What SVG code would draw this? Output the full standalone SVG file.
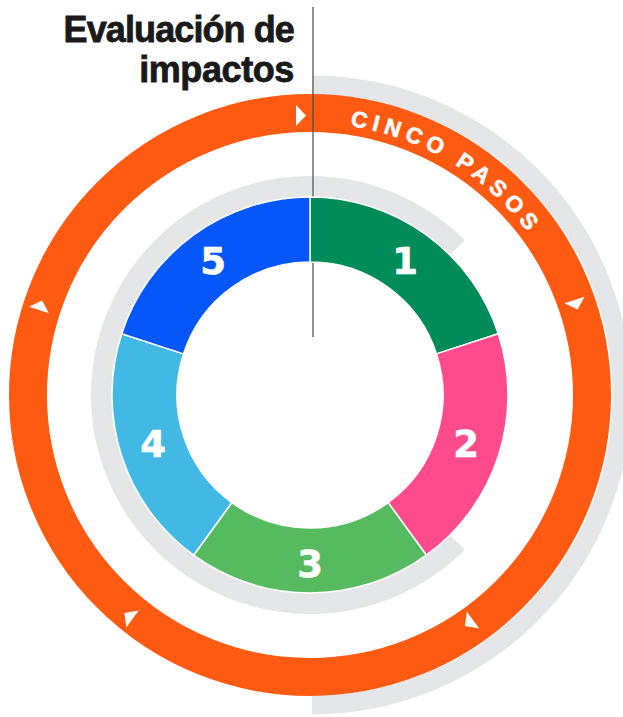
<svg xmlns="http://www.w3.org/2000/svg" width="623" height="717" viewBox="0 0 623 717">
<defs>
<style>
.title{font-family:"Liberation Sans",Arial,sans-serif;font-weight:bold;font-size:36px;fill:#1a1a1a;stroke:#1a1a1a;stroke-width:0.8;text-anchor:end}
.num{font-family:"DejaVu Sans",sans-serif;font-weight:bold;font-size:37px;fill:#ffffff;stroke:#ffffff;stroke-width:0.6;text-anchor:middle}
.seg{stroke:#ffffff;stroke-width:1.5;stroke-linejoin:miter}
.ring{fill:none}
.arrow{fill:#ffffff}
.pasos{font-family:"Liberation Sans",Arial,sans-serif;font-weight:bold;font-size:22.5px;fill:#ffffff;stroke:#ffffff;stroke-width:0.6;letter-spacing:5.6px}
</style>
<path id="arcText" d="M310,123 A272,272 0 0 1 582,395"/>
<polygon id="tri" points="0,-10.5 10,0 0,10.5"/>
</defs>
<rect width="623" height="717" fill="#ffffff"/>

<g id="title">
<text class="title" x="294" y="42" letter-spacing="-0.9">Evaluación de</text>
<text class="title" x="294" y="82" letter-spacing="-0.4">impactos</text>
</g>

<g id="background-rings">
<path class="ring" d="M312,85 A310,310 0 0 1 312,705" stroke="#e5e6e8" stroke-width="19"/>
<path class="ring" d="M457.4,542.4 A208.5,208.5 0 1 1 457.4,247.6" stroke="#e5e6e8" stroke-width="21"/>
</g>

<g id="cycle-ring">
<circle class="ring" cx="310" cy="395" r="282" stroke="#ff5a12" stroke-width="38"/>
<text class="pasos"><textPath href="#arcText" startOffset="40">CINCO PASOS</textPath></text>
</g>

<g id="connectors">
<use href="#tri" class="arrow" transform="translate(296,115.5) rotate(0)"/>
<use href="#tri" class="arrow" transform="translate(574.5,300) rotate(72)"/>
<use href="#tri" class="arrow" transform="translate(473,620) rotate(144)"/>
<use href="#tri" class="arrow" transform="translate(132.5,619) rotate(216)"/>
<use href="#tri" class="arrow" transform="translate(39,310) rotate(288)"/>
<line x1="313" y1="7" x2="313" y2="337" stroke="#4a4a4a" stroke-width="1.2"/>
</g>

<g id="step-1">
<path class="seg" fill="#008b5a" d="M310,197 A198,198 0 0 1 498.31,333.81 L436.49,353.90 A133,133 0 0 0 310,262 Z"/>
<text class="num" x="405" y="274">1</text>
</g>
<g id="step-2">
<path class="seg" fill="#ff4a8c" d="M498.31,333.81 A198,198 0 0 1 426.38,555.19 L388.18,502.60 A133,133 0 0 0 436.49,353.90 Z"/>
<text class="num" x="466" y="457">2</text>
</g>
<g id="step-3">
<path class="seg" fill="#55bb5e" d="M426.38,555.19 A198,198 0 0 1 193.62,555.19 L231.82,502.60 A133,133 0 0 0 388.18,502.60 Z"/>
<text class="num" x="310" y="577">3</text>
</g>
<g id="step-4">
<path class="seg" fill="#42b8e4" d="M193.62,555.19 A198,198 0 0 1 121.69,333.81 L183.51,353.90 A133,133 0 0 0 231.82,502.60 Z"/>
<text class="num" x="153" y="457">4</text>
</g>
<g id="step-5">
<path class="seg" fill="#0657f9" d="M121.69,333.81 A198,198 0 0 1 310,197 L310,262 A133,133 0 0 0 183.51,353.90 Z"/>
<text class="num" x="213" y="274">5</text>
</g>
</svg>
